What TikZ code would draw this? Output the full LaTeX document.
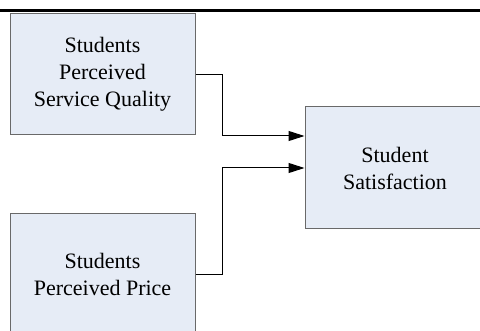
\documentclass[tikz,border=0pt]{standalone}
\usepackage{fontspec}
\setmainfont{Liberation Serif}
\usetikzlibrary{arrows.meta}
\definecolor{boxfill}{RGB}{230,236,246}
\definecolor{boxline}{RGB}{105,105,105}
\tikzset{>={Triangle[length=16pt,width=10pt]}}
\tikzset{
  factor/.style={draw=boxline,fill=boxfill,line width=1pt,align=center,
    font=\fontsize{22}{27}\selectfont,inner sep=0pt},
  link/.style={->,line width=1pt}
}

\begin{document}
\begin{tikzpicture}[x=1pt,y=-1pt]
  \useasboundingbox (0,0) rectangle (480,331);
  \clip (0,0) rectangle (480,331);
  \draw[line width=3pt] (0,10.5) -- (480,10.5);
  \node[factor,minimum width=185pt,minimum height=121pt] (quality) at (102.5,74.5)
    {Students\\Perceived\\Service Quality};
  \node[factor,minimum width=185pt,minimum height=121pt] (price) at (102.5,274.5)
    {Students\\Perceived Price};
  \node[factor,minimum width=180pt,minimum height=122pt] (satisf) at (395,168)
    {Student\\Satisfaction};
  \draw[link] (quality.east) -- ++(27,0) |- ([yshift=32pt]satisf.west);
  \draw[link] (price.east)   -- ++(27,0) |- (satisf.west);
\end{tikzpicture}
\end{document}
